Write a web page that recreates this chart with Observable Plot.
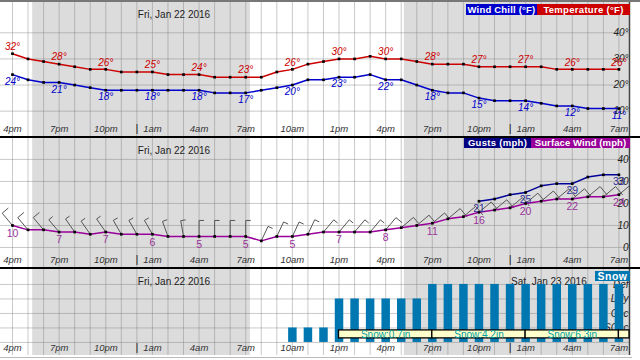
<!DOCTYPE html>
<html><head><meta charset="utf-8">
<script src="https://cdn.jsdelivr.net/npm/d3@7"></script>
<script src="https://cdn.jsdelivr.net/npm/@observablehq/plot@0.6"></script>
<style>
body{margin:0;background:#fff;font-family:"Liberation Sans",Arial,sans-serif;}
#wrap{position:relative;width:640px;height:360px;overflow:hidden;background:#fff;}
.panel svg{display:block;}
.leg{position:absolute;color:#fff;font-weight:bold;font-size:9.5px;letter-spacing:0.3px;text-align:center;white-space:nowrap;overflow:hidden;}
</style></head><body>
<div id="wrap">
  <div id="p1" class="panel" style="border-top:2px solid #777"></div>
  <div id="p2" class="panel" style="border-top:2px solid #000"></div>
  <div id="p3" class="panel" style="border-top:2px solid #000"></div>
  <div style="margin-top:2px;border-top:1px solid #bbb;width:632px"></div>
  <div class="leg" style="left:466px;top:4px;width:71px;height:11px;line-height:11px;background:#0000cc;letter-spacing:0.2px">Wind Chill (°F)</div>
  <div class="leg" style="left:537px;top:4px;width:93px;height:11px;line-height:11px;background:#cc0000">Temperature (°F)</div>
  <div class="leg" style="left:464px;top:138px;width:67px;height:10px;line-height:10px;background:#000080">Gusts (mph)</div>
  <div class="leg" style="left:531px;top:138px;width:99px;height:10px;line-height:10px;background:#990099;letter-spacing:0.1px">Surface Wind (mph)</div>
  <div class="leg" style="left:595px;top:271px;width:35px;height:10px;line-height:10px;background:#0077b0;font-size:10.5px;letter-spacing:0.5px">Snow</div>
</div>
<script>
// ---- data ----
const hours = [0,1,2,3,4,5,6,7,8,9,10,11,12,13,14,15,16,17,18,19,20,21,22,23,24,25,26,27,28,29,30,31,32,33,34,35,36,37,38,39];
const temperature = [32,30,29,28,27,26,26,25,25,25, 24,24,24,23,23,23,23,25,26,28, 29,30,30,31,30,30,29,28,28,28, 27,27,27,27,27,26,26,26,26,26];
const windChill   = [24,22,21,21,20,19,18,18,18,18, 18,18,18,17,17,17,18,19,20,22, 22,23,23,24,22,22,20,18,17,17, 15,14,14,14,13,12,12,11,11,11];
const surfaceWind = [10,8,8,7,7,6,7,6,6,6, 5,5,5,5,5,5,3,5,5,6, 7,7,7,7,8,9,10,11,13,14, 16,17,18,20,21,22,22,23,23,24];
const gusts = [null,null,null,null,null,null,null,null,null,null, null,null,null,null,null,null,null,null,null,null,
               null,null,null,null,null,null,null,null,null,null, 21,22,24,25,28,29,29,32,33,33];
const windDir = [320,320,320,320,325,325,325,330,330,330, 340,350,0,0,0,0,25,25,25,25, 40,40,40,40,40,50,50,50,50,50, 50,50,50,50,50,50,50,50,50,50];
const snowChance = [0,0,0,0,0,0,0,0,0,0, 0,0,0,0,0,0,0,0,1,1, 1,3,3,3,3,3,3,4,4,4, 4,4,4,4,4,4,4,4,4,4];
const snowLevels = [1,2,3,4];
const snowLevelLabels = ["SChc","Chc","Lkly","Def"];
const accumStart = [21,27,33,39];
const accumEnd   = [27,33,39,40];
const accumText  = ["Snow:0.7in","Snow:4.2in","Snow:6.3in",""];
const tickHours  = [0,3,6,9,12,15,18,21,24,27,30,33,36,39];
const tickLabels = ["4pm","7pm","10pm","1am","4am","7am","10am","1pm","4pm","7pm","10pm","1am","4am","7am"];
const midnights  = [8,32];
const dateLabels = ["Fri, Jan 22 2016","Sat, Jan 23 2016"];
const nightStart = [1.3,25.2];
const nightEnd   = [15.3,40];
const tempTicks  = [10,20,30,40];
const windTicks  = [0,10,20,30,40];

// ---- layout ----
const W = 640, MR = 11;
const xMin = -0.77, xMax = 39.68;
const H1 = 134, H2 = 129, H3 = 86;
const tDom = [0.3, 51.6], wDom = [-9.1, 49.5], sDom = [-0.9, 5.03];
const FONT = '"Liberation Sans", Arial, sans-serif';
const pts = hours.map((h,i)=>({h,t:temperature[i],c:windChill[i],w:surfaceWind[i],g:gusts[i],d:windDir[i],s:snowChance[i]}));
const nights = nightStart.map((s,i)=>({s, e: Math.min(nightEnd[i], xMax)}));
const accum = accumStart.map((s,i)=>({s, e: Math.min(accumEnd[i], xMax), txt: accumText[i]}));
const every3 = pts.filter(p => tickHours.includes(p.h));
const dates = midnights.map((h,i)=>({h, label: dateLabels[i]}));

function common(yTicks, tickFmt, dateList){
  return [
    Plot.barX(nights, {x1:"s", x2:"e", fill:"#dcdcdc"}),
    Plot.ruleX(hours, {stroke:"#777", strokeOpacity:0.4}),
    Plot.ruleY(yTicks, {stroke:"#777", strokeOpacity:0.4}),
    Plot.ruleX([xMax], {stroke:"#444", strokeWidth:1.5}),
    Plot.text(yTicks, {y:d=>d, text:tickFmt, frameAnchor:"right", textAnchor:"end", dx:-1, fontStyle:"italic", fill:"#222", fontSize:10}),
    Plot.text(tickHours, {x:d=>d, text:(d,i)=>tickLabels[i], frameAnchor:"bottom", dy:-5, fontStyle:"italic", fill:"#333", fontSize:9.5}),
    Plot.text(midnights, {x:d=>d, text:()=>"|", frameAnchor:"bottom", dy:-5, fill:"#222", fontSize:11}),
    Plot.text(dateList, {x:"h", text:"label", frameAnchor:"top", dy:8, dx:1, textAnchor:"start", fill:"#222", fontSize:10})
  ];
}
function mk(h, yDom, marks){
  return Plot.plot({width:W, height:h, marginTop:0, marginBottom:0, marginLeft:0, marginRight:MR,
    x:{domain:[xMin,xMax], axis:null}, y:{domain:yDom, axis:null},
    style:{fontFamily:FONT, background:"transparent"}, marks});
}

// panel 1 (the second day's label sits under the legend)
document.getElementById("p1").append(mk(H1, tDom, [
  ...common(tempTicks, d=>d+"°", dates.slice(0,1)),
  Plot.line(pts, {x:"h", y:"t", stroke:"#cc0000", strokeWidth:1.5}),
  Plot.line(pts, {x:"h", y:"c", stroke:"#0000cc", strokeWidth:1.5}),
  Plot.dot(pts, {x:"h", y:"t", symbol:"square", r:1.5, fill:"#000"}),
  Plot.dot(pts, {x:"h", y:"c", symbol:"square", r:1.5, fill:"#000"}),
  Plot.text(every3, {x:"h", y:"t", text:d=>d.t+"°", dy:-7, fill:"#cc0000", fontStyle:"italic", fontSize:10}),
  Plot.text(every3, {x:"h", y:"c", text:d=>d.c+"°", dy:7, fill:"#0000cc", fontStyle:"italic", fontSize:10})
]));

// panel 2 wind barbs
const pxH = (W-MR)/(xMax-xMin), pxV = H2/(wDom[1]-wDom[0]);
const barbs = pts.map(p=>{
  const a = p.d*Math.PI/180, L = 16, B = p.w<8?5:(p.w<13?8:11);
  const tx = p.h + L*Math.sin(a)/pxH, ty = p.w + L*Math.cos(a)/pxV;
  const bx = tx + B*Math.cos(a)/pxH, by = ty - B*Math.sin(a)/pxV;
  return {h:p.h, w:p.w, tx, ty, bx, by};
});
const gustPts = pts.filter(p=>p.g!=null);
document.getElementById("p2").append(mk(H2, wDom, [
  ...common(windTicks, d=>String(d), dates.slice(0,1)),
  Plot.link(barbs, {x1:"h", y1:"w", x2:"tx", y2:"ty", stroke:"#555", strokeWidth:1, clip:true}),
  Plot.link(barbs, {x1:"tx", y1:"ty", x2:"bx", y2:"by", stroke:"#555", strokeWidth:1, clip:true}),
  Plot.line(gustPts, {x:"h", y:"g", stroke:"#000099", strokeWidth:1.5}),
  Plot.line(pts, {x:"h", y:"w", stroke:"#990099", strokeWidth:1.5}),
  Plot.dot(gustPts, {x:"h", y:"g", symbol:"square", r:1.5, fill:"#000"}),
  Plot.dot(pts, {x:"h", y:"w", symbol:"square", r:1.5, fill:"#000"}),
  Plot.text(gustPts.filter(p=>tickHours.includes(p.h)), {x:"h", y:"g", text:d=>String(d.g), dy:7, fill:"#333399", fontSize:10.5}),
  Plot.text(every3, {x:"h", y:"w", text:d=>String(d.w), dy:8, fill:"#993399", fontSize:10.5})
]));

// panel 3 snow
const accLo = 0.28, accHi = 0.83;
document.getElementById("p3").append(mk(H3, sDom, [
  ...common([0,1,2,3,4], ()=>"", dates),
  Plot.text(snowLevels, {y:d=>d, text:(d,i)=>snowLevelLabels[i], frameAnchor:"right", textAnchor:"end", dx:-1, fontStyle:"italic", fill:"#222", fontSize:10}),
  Plot.ruleX(pts.filter(p=>p.s>0), {x:"h", y1:()=>0, y2:"s", stroke:"#0077b0", strokeWidth:8.5}),
  Plot.rect(accum, {x1:"s", x2:"e", y1:()=>accLo, y2:()=>accHi, fill:"#ffffcc", stroke:"#000", strokeWidth:1.3}),
  Plot.text(accum, {x:d=>(d.s+d.e)/2, y:()=>(accLo+accHi)/2, text:"txt", fill:"#00a0a0", fontSize:10})
]));
</script>
</body></html>
